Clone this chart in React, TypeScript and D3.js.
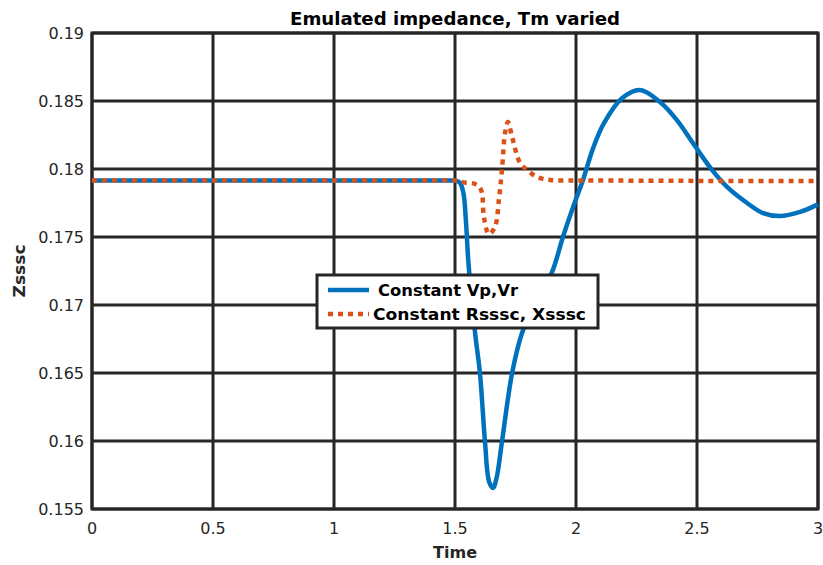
import React from "react";
import * as d3 from "d3";

const xTicks = [0, 0.5, 1, 1.5, 2, 2.5, 3];
const yTicks = [0.155, 0.16, 0.165, 0.17, 0.175, 0.18, 0.185, 0.19];
const xTickLabels = ["0", "0.5", "1", "1.5", "2", "2.5", "3"];
const yTickLabels = ["0.155", "0.16", "0.165", "0.17", "0.175", "0.18", "0.185", "0.19"];

const blueT = [0, 0.5, 1.0, 1.4, 1.48, 1.5, 1.52, 1.535, 1.545, 1.556, 1.583, 1.603, 1.624, 1.641, 1.657, 1.672, 1.694, 1.736, 1.777, 1.81, 1.86, 1.905, 1.946, 1.988, 2.029, 2.07, 2.115, 2.19, 2.264, 2.347, 2.417, 2.483, 2.562, 2.624, 2.707, 2.773, 2.843, 2.926, 3.0];
const blueV = [0.17915, 0.17915, 0.17915, 0.17915, 0.17915, 0.17914, 0.1790, 0.1782, 0.1762, 0.1730, 0.16794, 0.165, 0.15993, 0.15700, 0.15654, 0.15730, 0.15993, 0.165, 0.16794, 0.16930, 0.17090, 0.17260, 0.175, 0.17721, 0.17919, 0.18150, 0.18335, 0.18520, 0.18581, 0.18493, 0.1836, 0.18191, 0.17993, 0.17868, 0.1775, 0.17676, 0.17654, 0.17684, 0.1774];

const orangeT = [0, 0.5, 1.0, 1.4, 1.5, 1.541, 1.583, 1.607, 1.62, 1.64, 1.665, 1.682, 1.694, 1.707, 1.719, 1.736, 1.769, 1.798, 1.839, 1.893, 2.0, 2.3, 2.6, 3.0];
const orangeV = [0.17915, 0.17915, 0.17915, 0.17915, 0.17915, 0.1790, 0.1789, 0.1785, 0.1764, 0.17522, 0.17574, 0.17787, 0.17993, 0.18265, 0.18346, 0.18235, 0.18044, 0.17993, 0.17941, 0.17919, 0.17916, 0.17914, 0.17912, 0.17912];

const seriesNames = ["Constant Vp,Vr", "Constant Rsssc, Xsssc"];
const titleText = "Emulated impedance, Tm varied";
const xLabel = "Time";
const yLabel = "Zsssc";

const W = 823, H = 565;
const M = { left: 92, right: 818, top: 33, bottom: 509 };
const GRID = "#262626";
const BLUE = "#0072BD";
const ORANGE = "#D95319";
const FONT = "'DejaVu Sans', sans-serif";

export default function App() {
  const x = d3.scaleLinear().domain([0, 3]).range([M.left, M.right]);
  const y = d3.scaleLinear().domain([0.155, 0.19]).range([M.bottom, M.top]);
  const line = d3
    .line<[number, number]>()
    .x((d) => x(d[0]))
    .y((d) => y(d[1]))
    .curve(d3.curveCatmullRom.alpha(0.5));
  const blue = blueT.map((t, i) => [t, blueV[i]] as [number, number]);
  const orange = orangeT.map((t, i) => [t, orangeV[i]] as [number, number]);

  const lg = { x: 317, y: 275, w: 281, h: 53 };

  return (
    <svg width={W} height={H} style={{ position: "absolute", left: 0, top: 0, background: "#fff" }}>
      <rect x={0} y={0} width={W} height={H} fill="#fff" />
      <rect x={M.left} y={M.top} width={M.right - M.left} height={M.bottom - M.top} fill="#fff" />
      {xTicks.map((t) => (
        <line key={"gx" + t} x1={x(t)} x2={x(t)} y1={M.top} y2={M.bottom} stroke={GRID} strokeWidth={3} />
      ))}
      {yTicks.map((t) => (
        <line key={"gy" + t} x1={M.left} x2={M.right} y1={y(t)} y2={y(t)} stroke={GRID} strokeWidth={3} />
      ))}
      <rect x={M.left} y={M.top} width={M.right - M.left} height={M.bottom - M.top} fill="none" stroke={GRID} strokeWidth={3} />
      {xTicks.map((t, i) => (
        <text key={"xl" + t} x={x(t)} y={534} textAnchor="middle" fontFamily={FONT} fontSize={16} fill="#262626">
          {xTickLabels[i]}
        </text>
      ))}
      {yTicks.map((t, i) => (
        <text key={"yl" + t} x={84} y={y(t) + 6} textAnchor="end" fontFamily={FONT} fontSize={16} fill="#262626">
          {yTickLabels[i]}
        </text>
      ))}
      <path d={line(blue) || ""} fill="none" stroke={BLUE} strokeWidth={4.5} strokeLinejoin="round" />
      <path d={line(orange) || ""} fill="none" stroke={ORANGE} strokeWidth={4.5} strokeDasharray="5 5" />
      <text x={(M.left + M.right) / 2} y={25} textAnchor="middle" fontFamily={FONT} fontWeight="bold" fontSize={17} textLength={330} lengthAdjust="spacingAndGlyphs" fill="#000">
        {titleText}
      </text>
      <text x={(M.left + M.right) / 2} y={558} textAnchor="middle" fontFamily={FONT} fontWeight="bold" fontSize={16} textLength={44} lengthAdjust="spacingAndGlyphs" fill="#262626">
        {xLabel}
      </text>
      <text transform={`translate(25, ${(M.top + M.bottom) / 2}) rotate(-90)`} textAnchor="middle" fontFamily={FONT} fontWeight="bold" fontSize={16} textLength={53} lengthAdjust="spacingAndGlyphs" fill="#262626">
        {yLabel}
      </text>
      <g>
        <rect x={lg.x} y={lg.y} width={lg.w} height={lg.h} fill="#fff" stroke={GRID} strokeWidth={3} />
        <line x1={328} x2={369} y1={290} y2={290} stroke={BLUE} strokeWidth={4.5} />
        <line x1={328} x2={369} y1={314} y2={314} stroke={ORANGE} strokeWidth={4.5} strokeDasharray="5 5" />
        <text x={378} y={296} fontFamily={FONT} fontWeight="bold" fontSize={16} textLength={140} lengthAdjust="spacingAndGlyphs" fill="#000">
          {seriesNames[0]}
        </text>
        <text x={373} y={320} fontFamily={FONT} fontWeight="bold" fontSize={16} textLength={213} lengthAdjust="spacingAndGlyphs" fill="#000">
          {seriesNames[1]}
        </text>
      </g>
    </svg>
  );
}
